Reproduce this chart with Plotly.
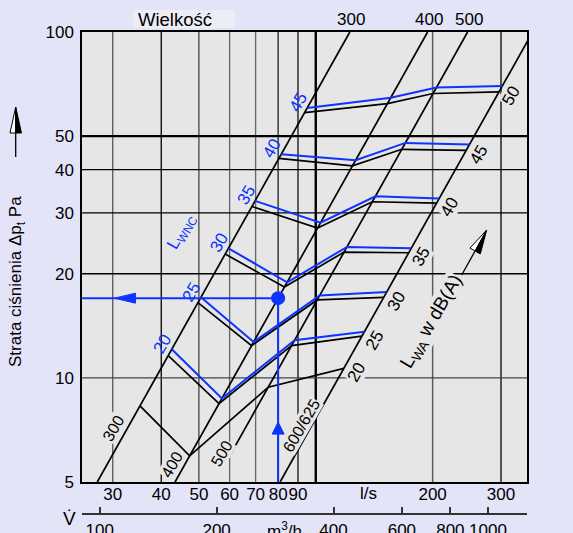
import math
import plotly.graph_objects as go

# ---------------- data ----------------
x_tickvals = [30, 40, 50, 60, 70, 80, 90, 200, 300]          # l/s
y_tickvals = [5, 10, 20, 30, 40, 50, 100]                     # Pa
m3h_tickvals = [100, 200, 400, 600, 800, 1000]                # m3/h

size_names = ["300", "400", "500", "600/625"]
size_flow_at_100pa = [122.4, 194.1, 246.1, 361.9]             # l/s where each size line reaches 100 Pa
size_dp_start = [5, 5, 6, 5]                                   # Pa where each size line starts

# black L_WA curves: pressure drop on the 300 / 400 / 500 / 600/625 lines
lwa_levels = [20, 25, 30, 35, 40, 45, 50]
lwa_dp_300 = [8.3, 11.6, 16.5, 22.8, 31.3, 43.1, 58.5]
lwa_dp_400 = [5.95, 8.43, 12.4, 18.3, 27.1, 41.0, 62.1]
lwa_dp_500 = [9.4, 12.4, 16.8, 23.1, 32.3, 45.8, 66.4]
lwa_dp_600 = [10.65, 13.2, 17.1, 23.0, 32.0, 45.5, 67.1]

# blue L_WNC curves
nc_levels = [20, 25, 30, 35, 40, 45]
nc_dp_300 = [12.1, 17.1, 23.7, 32.5, 44.3, 60.3]
nc_dp_400 = [8.72, 12.7, 18.9, 28.1, 42.6, 64.6]
nc_dp_500 = [12.85, 17.3, 23.9, 33.5, 47.8, 69.1]
nc_dp_600 = [13.6, 17.7, 23.7, 33.0, 47.3, 69.8]

# worked example
meas_flow = 80
meas_dp = 17

# ---------------- styling / layout ----------------
W, H = 573, 533
ML, MR, MT, MB = 82, 46, 32, 5
PLOT_BOTTOM = 482
PAPER_H = H - MT - MB
PAPER_W = W - ML - MR
Y_DOM0 = (H - MB - PLOT_BOTTOM) / PAPER_H

FONT = "Liberation Sans, Arial, sans-serif"
BLUE = "#0d33ff"
PLOT_BG = "#e6e6e6"
PAPER_BG = "#e4e4f8"


def pxp(x, y):
    """pixel -> paper coordinates"""
    return (x - ML) / PAPER_W, (H - MB - y) / PAPER_H


def flow_on_size(i, dp):
    return size_flow_at_100pa[i] * math.sqrt(dp / 100.0)


fig = go.Figure()

# grid lines (drawn as traces in data space)
vgrid_style = {30: ("#555", 1.3), 40: ("#000", 1.3), 50: ("#444", 1.3), 60: ("#666", 1.3),
               70: ("#666", 1.3), 80: ("#222", 1.3), 90: ("#111", 1.3), 100: ("#000", 2.4),
               200: ("#5a5a5a", 1.5), 300: ("#000", 1.3)}
for v, (c, w) in vgrid_style.items():
    fig.add_trace(go.Scatter(x=[v, v], y=[5, 100], mode="lines",
                             line=dict(color=c, width=w), hoverinfo="skip"))
hgrid_style = {10: ("#444", 1.4), 20: ("#000", 1.3), 30: ("#000", 1.3), 40: ("#000", 1.3), 50: ("#000", 2.2)}
for p, (c, w) in hgrid_style.items():
    fig.add_trace(go.Scatter(x=[25, 350], y=[p, p], mode="lines",
                             line=dict(color=c, width=w), hoverinfo="skip"))

# size lines
for i, name in enumerate(size_names):
    ys = [size_dp_start[i], 100]
    xs = [flow_on_size(i, p) for p in ys]
    fig.add_trace(go.Scatter(x=xs, y=ys, mode="lines",
                             line=dict(color="black", width=1.7), hoverinfo="skip"))

# black L_WA polylines
for k, lev in enumerate(lwa_levels):
    ys = [lwa_dp_300[k], lwa_dp_400[k], lwa_dp_500[k], lwa_dp_600[k]]
    xs = [flow_on_size(i, p) for i, p in enumerate(ys)]
    fig.add_trace(go.Scatter(x=xs, y=ys, mode="lines",
                             line=dict(color="black", width=1.7), hoverinfo="skip"))

# blue L_WNC polylines
for k, lev in enumerate(nc_levels):
    ys = [nc_dp_300[k], nc_dp_400[k], nc_dp_500[k], nc_dp_600[k]]
    xs = [flow_on_size(i, p) for i, p in enumerate(ys)]
    fig.add_trace(go.Scatter(x=xs, y=ys, mode="lines",
                             line=dict(color=BLUE, width=2), hoverinfo="skip"))

# worked example lines + dot
fig.add_trace(go.Scatter(x=[25, meas_flow, meas_flow], y=[meas_dp, meas_dp, 5], mode="lines",
                         line=dict(color=BLUE, width=2), hoverinfo="skip"))
fig.add_trace(go.Scatter(x=[meas_flow], y=[meas_dp], mode="markers",
                         marker=dict(color=BLUE, size=14), hoverinfo="skip"))

# invisible trace to activate the m3/h axis
fig.add_trace(go.Scatter(x=[100], y=[10], xaxis="x2", yaxis="y", mode="markers",
                         marker=dict(opacity=0), hoverinfo="skip"))

ann = []
shapes = []


def A(**kw):
    kw.setdefault("showarrow", False)
    kw.setdefault("xanchor", "center")
    kw.setdefault("yanchor", "middle")
    ann.append(kw)


# labels of LWA curves (right end)
for k, lev in enumerate(lwa_levels):
    p = lwa_dp_600[k]
    v = flow_on_size(3, p)
    A(x=math.log10(v), y=math.log10(p), xref="x", yref="y", text=str(lev),
      textangle=-60, xshift=12.5, yshift=-4,
      font=dict(size=17, color="black", family=FONT), bgcolor=PLOT_BG, borderpad=0)
# labels of LWNC curves (left start)
for k, lev in enumerate(nc_levels):
    p = nc_dp_300[k]
    v = flow_on_size(0, p)
    A(x=math.log10(v), y=math.log10(p), xref="x", yref="y", text=str(lev),
      textangle=-60, xshift=-9, yshift=5.5,
      font=dict(size=17, color=BLUE, family=FONT))

# size labels along lines (bottom)
size_label_pos = [(30.1, 7.15), (42.7, 5.6), (57.2, 6.06), (91.8, 7.3)]
for name, (v, p) in zip(size_names, size_label_pos):
    A(x=math.log10(v), y=math.log10(p), xref="x", yref="y", text=name, textangle=-60,
      font=dict(size=16, color="black", family=FONT), bgcolor=PLOT_BG, borderpad=0)
# size labels on top
top_shift = [1.5, 1.2, 1.2, 5]
for i, name in enumerate(size_names):
    A(x=math.log10(size_flow_at_100pa[i]), y=pxp(0, 19)[1], xref="x", yref="paper",
      text=name, xshift=top_shift[i], font=dict(size=17, color="black", family=FONT))

# Wielkość box + text
bx0, by0 = pxp(133, 28)
bx1, by1 = pxp(235, 10)
shapes.append(dict(type="rect", xref="paper", yref="paper", x0=bx0, y0=by0, x1=bx1, y1=by1,
                   fillcolor="#ededf5", line=dict(width=0), layer="below"))
tx, ty = pxp(136, 19)
A(x=tx, y=ty, xref="paper", yref="paper", text="Wielkość", xanchor="left",
  font=dict(size=18.5, color="black", family=FONT))

# L_WNC and L_WA labels
tx, ty = pxp(182, 232)
A(x=tx, y=ty, xref="paper", yref="paper", text="L<sub>WNC</sub>", textangle=-60,
  font=dict(size=17, color=BLUE, family=FONT))
tx, ty = pxp(432, 322)
A(x=tx, y=ty, xref="paper", yref="paper", text="L<sub>WA</sub> w dB(A)", textangle=-60,
  font=dict(size=19, color="black", family=FONT), bgcolor=PLOT_BG, borderpad=0)

# y title
tx, ty = pxp(17, 282)
A(x=tx, y=ty, xref="paper", yref="paper", text="Strata ciśnienia Δp<sub>t</sub> Pa",
  textangle=-90, font=dict(size=17, color="black", family=FONT))

# axis unit labels
tx, ty = pxp(368, 493)
A(x=tx, y=ty, xref="paper", yref="paper", text="l/s", font=dict(size=17, color="black", family=FONT))
tx, ty = pxp(284, 530)
A(x=tx, y=ty, xref="paper", yref="paper", text="m<sup>3</sup>/h",
  font=dict(size=17, color="black", family=FONT))
tx, ty = pxp(69, 518)
A(x=tx, y=ty, xref="paper", yref="paper", text="V\u0307", font=dict(size=19, color="black", family=FONT))


def path_px(points):
    s = ""
    for j, (x, y) in enumerate(points):
        px, py = pxp(x, y)
        s += ("M" if j == 0 else "L") + f"{px:.5f},{py:.5f}"
    return s + "Z"


def line_px(x0, y0, x1, y1, w=1.3):
    a, b = pxp(x0, y0)
    c, d = pxp(x1, y1)
    return dict(type="line", xref="paper", yref="paper", x0=a, y0=b, x1=c, y1=d,
                line=dict(color="black", width=w))


# y-title arrow
shapes.append(line_px(15.7, 157, 15.7, 131))
shapes.append(dict(type="path", xref="paper", yref="paper",
                   path=path_px([(15.7, 107), (10, 133), (15.7, 133)]),
                   fillcolor="white", line=dict(color="black", width=1)))
shapes.append(dict(type="path", xref="paper", yref="paper",
                   path=path_px([(15.7, 107), (21.5, 133), (15.7, 133)]),
                   fillcolor="black", line=dict(color="black", width=1)))
# LWA arrow
shapes.append(line_px(461.7, 275, 475.1, 251))
shapes.append(dict(type="path", xref="paper", yref="paper",
                   path=path_px([(486.7, 230), (469.9, 248.1), (475.1, 251)]),
                   fillcolor="white", line=dict(color="black", width=1)))
shapes.append(dict(type="path", xref="paper", yref="paper",
                   path=path_px([(486.7, 230), (480.3, 253.9), (475.1, 251)]),
                   fillcolor="black", line=dict(color="black", width=1)))

# arrowheads on the worked example (anchored on data, sized in pixels)
shapes.append(dict(type="path", xref="x", yref="y", xsizemode="pixel", ysizemode="pixel",
                   xanchor=30.3, yanchor=meas_dp, path="M0,0L21,5L21,-5Z",
                   fillcolor=BLUE, line=dict(color=BLUE, width=1)))
shapes.append(dict(type="path", xref="x", yref="y", xsizemode="pixel", ysizemode="pixel",
                   xanchor=meas_flow, yanchor=7.45, path="M0,0L-6,-12L6,-12Z",
                   fillcolor=BLUE, line=dict(color=BLUE, width=1)))

axis_font = dict(size=17, color="black", family=FONT)
fig.update_layout(
    width=W, height=H,
    margin=dict(l=ML, r=MR, t=MT, b=MB, pad=0, autoexpand=False),
    paper_bgcolor=PAPER_BG, plot_bgcolor=PLOT_BG,
    showlegend=False,
    font=dict(family=FONT, color="black"),
    xaxis=dict(type="log", range=[math.log10(25), math.log10(350)], domain=[0, 1],
               tickmode="array", tickvals=x_tickvals, ticktext=[str(v) for v in x_tickvals],
               showgrid=False, zeroline=False, showline=True, mirror=True, automargin=False,
               linecolor="black", linewidth=1.5, ticks="", tickfont=axis_font, tickangle=0,
               ticklabelstandoff=-4),
    xaxis2=dict(type="log", overlaying="x", anchor="free", position=(H - MB - 514.3) / PAPER_H,
                side="bottom", range=[math.log10(25 * 3.6), math.log10(350 * 3.6)],
                tickmode="array", tickvals=m3h_tickvals, ticktext=[str(v) for v in m3h_tickvals],
                ticks="inside", ticklen=6, tickwidth=1.5, tickcolor="#333", automargin=False,
                showline=True, linecolor="#333", linewidth=2, showgrid=False, zeroline=False,
                tickfont=axis_font, tickangle=0),
    yaxis=dict(type="log", range=[math.log10(5), 2], domain=[Y_DOM0, 1],
               tickmode="array", tickvals=y_tickvals, ticktext=[str(v) for v in y_tickvals],
               showgrid=False, zeroline=False, showline=True, mirror=True, automargin=False,
               linecolor="black", linewidth=1.5, ticks="", tickfont=axis_font,
               ticklabelstandoff=3),
    annotations=ann,
    shapes=shapes,
)

fig.write_html("out.html")
